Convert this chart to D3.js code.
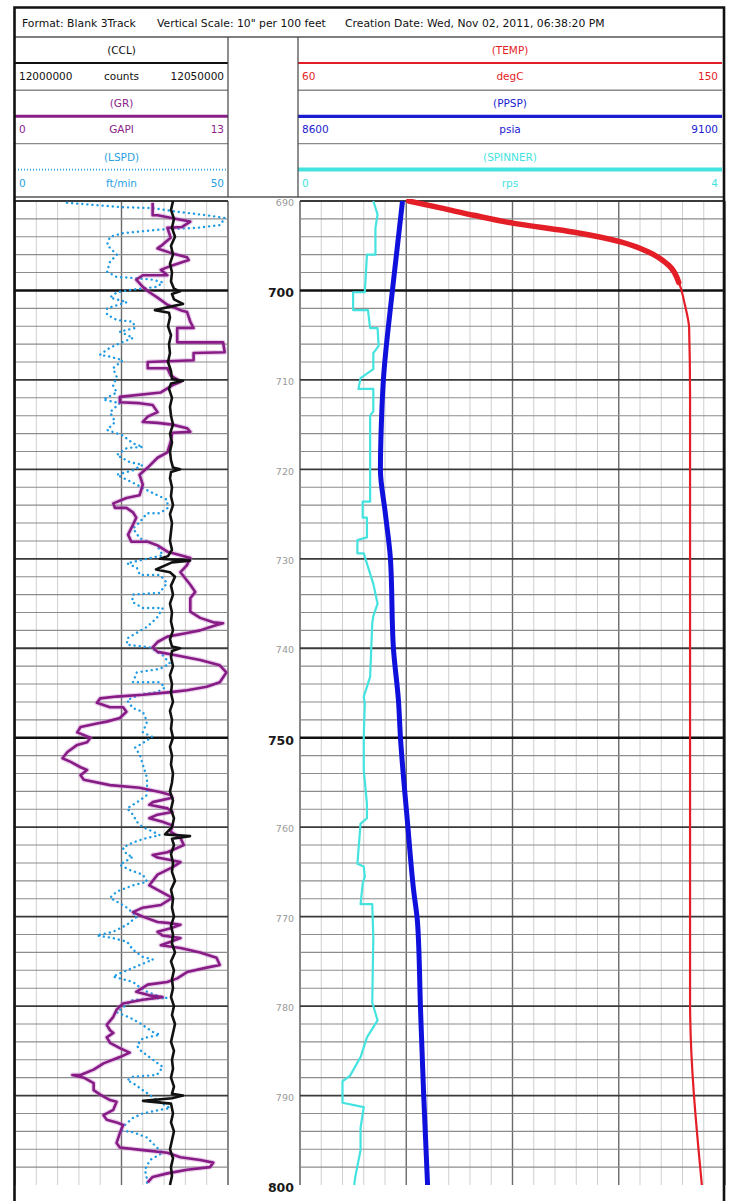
<!DOCTYPE html>
<html>
<head>
<meta charset="utf-8">
<script src="https://cdn.jsdelivr.net/npm/d3@7"></script>
<style>
  html, body { margin: 0; padding: 0; background: #fff; }
  svg { display: block; font-family: "DejaVu Sans", Arial, sans-serif; }
</style>
</head>
<body>
<svg id="log" width="730" height="1201"></svg>
<script>

// ---- curve data (depth in feet) ----

// CCL, counts
const cclDepth = [
  690, 691, 692, 693, 694, 695, 696, 697, 698, 699,
  699.8, 700.1, 700.4, 701, 701.5, 701.8, 702.2, 702.5, 703, 704,
  705, 706, 707, 708, 709, 709.9, 710.1, 710.4, 711, 712,
  713, 714, 715, 716, 717, 718, 719, 719.8, 720, 720.3,
  721, 722, 723, 724, 725, 726, 727, 728, 729, 729.7,
  730, 730.2, 730.4, 731.2, 731.5, 732, 733, 734, 735, 736,
  737, 738, 739, 739.8, 740, 740.3, 741, 742, 743, 744,
  745, 746, 747, 748, 749, 750, 751, 752, 753, 754,
  755, 756, 757, 758, 759, 760, 760.8, 761, 761.3, 762,
  763, 764, 765, 766, 767, 768, 769, 770, 771, 772,
  773, 774, 775, 776, 777, 778, 779, 780, 781, 782,
  783, 784, 785, 786, 787, 788, 789, 789.8, 790, 790.3,
  790.6, 790.9, 792, 793, 794, 795, 796, 797, 798, 799,
  800
];
const cclCounts = [
  12037090, 12036620, 12037320, 12036850, 12037560, 12036620, 12037090, 12036380, 12036850, 12036620,
  12037320, 12038730, 12036850, 12037320, 12039440, 12036620, 12032860, 12036150, 12036380, 12035920,
  12036620, 12036150, 12036380, 12035920, 12036620, 12036850, 12039440, 12036620, 12036150, 12036850,
  12036380, 12036620, 12037090, 12036380, 12036850, 12036380, 12036620, 12037090, 12038730, 12036620,
  12036380, 12036850, 12036620, 12037090, 12036380, 12036850, 12036620, 12036380, 12036850, 12035920,
  12034040, 12041080, 12036850, 12033100, 12036380, 12037560, 12036620, 12037090, 12036380, 12036850,
  12036620, 12037090, 12036380, 12036850, 12038730, 12036850, 12036620, 12037090, 12036380, 12036850,
  12036620, 12037090, 12036380, 12036850, 12036620, 12037090, 12036380, 12036850, 12036620, 12037090,
  12036850, 12036380, 12037090, 12036620, 12037320, 12036850, 12035210, 12041080, 12036850, 12037320,
  12036620, 12037090, 12036850, 12037560, 12036620, 12037090, 12036850, 12037320, 12036620, 12037090,
  12036850, 12037560, 12036620, 12037320, 12036850, 12037090, 12036620, 12037320, 12036850, 12037560,
  12037090, 12036620, 12037320, 12036850, 12037090, 12036620, 12037320, 12036850, 12039440, 12036850,
  12030050, 12036620, 12037090, 12036620, 12037320, 12036850, 12036380, 12037090, 12036620, 12036850,
  12036380
];

// GR, GAPI
const grDepth = [
  690.2, 690.8, 691.6, 691.6, 692.1, 692.3, 692.9, 693.0, 694.1, 694.9,
  695.3, 695.8, 696.3, 696.6, 697.2, 697.7, 698.3, 698.3, 698.8, 699.6,
  700.2, 700.8, 701.6, 702.2, 702.4, 703.5, 704.2, 704.2, 705.8, 705.8,
  706.9, 707.0, 707.8, 708.0, 708.7, 708.7, 709.5, 710.2, 710.6, 711.4,
  711.9, 712.5, 712.6, 712.8, 713.6, 714.1, 714.7, 714.8, 715.0, 715.4,
  715.8, 715.9, 716.9, 718.1, 718.7, 719.8, 720.6, 721.7, 722.9, 723.2,
  723.8, 724.3, 724.3, 724.8, 725.4, 726.2, 727.3, 728.1, 728.1, 728.5,
  729.2, 729.6, 729.9, 730.7, 731.5, 732.9, 733.7, 734.4, 735.9, 736.6,
  737.1, 737.2, 737.4, 738.0, 738.3, 738.7, 739.3, 739.9, 740.4, 740.8,
  741.3, 741.9, 742.7, 743.8, 744.3, 744.7, 744.9, 745.2, 745.4, 745.6,
  746.1, 746.6, 746.6, 747.1, 747.8, 748.2, 748.4, 748.8, 749.4, 750.0,
  750.5, 750.8, 751.6, 752.3, 752.7, 753.3, 753.6, 754.2, 754.7, 755.3,
  755.6, 756.1, 756.4, 756.7, 757.2, 757.5, 757.9, 758.3, 758.6, 759.0,
  759.4, 759.8, 760.5, 761.2, 762.0, 762.8, 763.1, 763.4, 763.9, 764.5,
  765.3, 766.5, 767.2, 767.9, 768.7, 769.0, 769.5, 770.0, 770.6, 770.7,
  770.9, 771.3, 771.7, 772.1, 772.4, 772.8, 773.2, 773.5, 774.0, 774.6,
  775.4, 775.7, 776.2, 776.9, 777.3, 777.6, 778.4, 778.8, 779.0, 779.3,
  779.7, 780.4, 781.2, 782.1, 782.7, 783.0, 783.5, 784.1, 784.7, 785.2,
  785.7, 786.4, 787.1, 787.7, 787.7, 788.0, 788.6, 789.4, 789.9, 790.5,
  790.7, 791.6, 792.2, 792.7, 793.0, 793.3, 794.2, 795.3, 795.8, 796.1,
  796.4, 796.9, 797.2, 797.5, 798.0, 798.3, 798.7, 799.1, 799.7
];
const grApi = [
  8.4, 8.4, 8.4, 8.7, 10.1, 10.7, 10.2, 9.3, 9.5, 9.0,
  8.7, 9.5, 10.5, 10.6, 9.6, 8.9, 9.3, 7.8, 7.4, 7.8,
  8.2, 8.7, 9.3, 10.1, 10.5, 10.7, 10.9, 9.9, 9.9, 12.7,
  12.8, 10.9, 10.9, 8.1, 8.1, 9.3, 9.5, 10.1, 9.6, 8.9,
  6.4, 6.4, 7.6, 8.4, 8.7, 8.1, 7.8, 8.7, 9.6, 10.5,
  10.7, 9.6, 9.5, 9.3, 8.7, 8.1, 7.6, 7.8, 7.6, 6.8,
  6.0, 6.1, 6.8, 7.2, 7.4, 7.2, 6.9, 7.1, 8.1, 8.7,
  9.3, 10.1, 10.7, 10.5, 10.1, 10.7, 11.0, 10.7, 10.7, 11.3,
  12.1, 12.7, 12.3, 11.3, 10.5, 9.3, 8.7, 8.4, 8.7, 9.9,
  11.3, 12.5, 12.9, 12.5, 11.7, 10.5, 9.5, 7.8, 6.2, 5.2,
  5.0, 5.8, 6.6, 6.8, 6.4, 5.6, 5.0, 4.0, 3.8, 4.6,
  4.4, 3.8, 3.2, 2.9, 3.4, 4.0, 4.4, 4.0, 4.2, 5.8,
  7.6, 8.9, 9.5, 9.6, 8.4, 8.2, 9.3, 9.6, 8.7, 8.2,
  9.0, 9.6, 9.5, 10.1, 10.3, 9.3, 8.4, 8.7, 10.1, 9.6,
  8.7, 8.2, 8.9, 9.6, 8.9, 7.8, 7.2, 7.8, 8.7, 9.3,
  10.1, 9.5, 8.7, 9.0, 10.1, 9.5, 8.9, 10.1, 11.3, 12.3,
  12.5, 11.7, 10.5, 9.9, 9.3, 8.1, 7.4, 8.2, 9.0, 7.8,
  6.6, 6.2, 6.0, 5.6, 5.8, 6.0, 5.6, 5.8, 6.4, 7.0,
  6.4, 5.4, 4.8, 4.0, 3.5, 4.2, 4.8, 4.8, 5.2, 5.8,
  6.2, 6.0, 5.4, 5.6, 6.2, 6.6, 6.4, 6.2, 6.4, 7.8,
  9.3, 10.1, 11.3, 12.1, 11.9, 10.5, 9.3, 8.4, 8.1
];

// LSPD, ft/min
const lspdDepth = [
  690.2, 690.7, 690.8, 691.2, 691.6, 691.9, 692.7, 693.0, 693.2, 693.6,
  694.0, 694.9, 696.0, 696.8, 697.9, 698.5, 698.6, 698.8, 699.1, 699.6,
  699.9, 700.2, 700.8, 701.3, 702.0, 702.7, 703.3, 703.5, 704.2, 704.6,
  705.3, 705.9, 706.4, 707.2, 707.4, 707.8, 708.7, 709.7, 710.6, 711.4,
  712.2, 712.6, 713.6, 714.7, 715.6, 716.2, 717.1, 717.5, 717.6, 718.4,
  719.2, 719.5, 720.1, 720.6, 721.5, 722.5, 723.4, 724.3, 724.9, 724.9,
  725.9, 726.6, 727.7, 728.5, 729.6, 730.1, 730.5, 731.0, 731.8, 731.8,
  732.7, 733.3, 733.8, 734.0, 734.8, 735.5, 735.5, 736.6, 737.6, 738.9,
  739.6, 739.9, 740.8, 741.7, 742.3, 742.7, 743.8, 743.8, 744.4, 744.9,
  745.2, 745.8, 746.7, 747.1, 748.2, 749.4, 749.9, 750.6, 751.1, 751.9,
  753.0, 754.5, 755.3, 756.4, 757.0, 757.5, 757.9, 758.6, 759.4, 760.0,
  760.5, 760.9, 761.2, 761.7, 762.3, 763.1, 763.3, 764.2, 764.8, 765.3,
  766.1, 766.5, 767.2, 767.9, 768.5, 769.0, 770.0, 770.9, 771.7, 772.1,
  772.4, 772.8, 773.7, 774.5, 774.8, 775.4, 776.2, 776.7, 776.9, 777.3,
  777.9, 778.4, 778.8, 779.1, 779.3, 780.7, 781.3, 781.9, 782.9, 783.2,
  783.6, 784.4, 784.9, 786.0, 786.8, 787.7, 787.9, 788.3, 788.6, 789.4,
  790.5, 791.4, 791.6, 792.0, 792.5, 793.5, 793.9, 794.1, 794.7, 795.8,
  796.4, 797.2, 798.3, 799.4, 800.0
];
const lspdFtMin = [
  12.2, 25.3, 32.4, 38.0, 45.1, 49.3, 48.1, 42.7, 34.0, 25.3,
  22.3, 21.6, 23.9, 22.3, 21.6, 23.9, 27.7, 32.4, 34.7, 33.3,
  27.7, 23.9, 22.3, 26.3, 21.6, 21.6, 23.9, 27.7, 28.2, 24.6,
  27.7, 24.6, 22.3, 19.9, 22.3, 25.3, 23.0, 23.9, 23.0, 23.9,
  20.7, 24.6, 22.3, 23.5, 21.6, 25.3, 27.7, 30.0, 26.3, 23.9,
  27.0, 30.0, 27.7, 23.9, 27.7, 31.7, 35.7, 35.9, 34.0, 31.0,
  29.3, 27.7, 29.3, 33.3, 34.7, 30.0, 26.3, 28.6, 29.3, 34.0,
  35.7, 34.7, 34.0, 27.7, 27.5, 30.0, 34.7, 33.3, 31.0, 26.3,
  26.3, 31.7, 34.7, 36.4, 34.0, 28.6, 27.7, 34.0, 35.2, 33.3,
  29.3, 26.3, 27.7, 30.0, 31.0, 30.0, 32.2, 30.0, 28.2, 29.3,
  30.0, 31.0, 31.0, 31.0, 29.3, 27.7, 26.3, 27.7, 28.6, 30.0,
  32.4, 34.0, 31.0, 27.7, 25.3, 26.3, 27.7, 24.6, 27.0, 30.0,
  31.0, 27.7, 23.9, 22.3, 24.6, 26.3, 28.6, 26.3, 23.0, 19.2,
  23.0, 26.3, 27.7, 30.0, 32.4, 29.3, 25.3, 23.0, 24.6, 27.7,
  29.3, 31.0, 33.3, 35.7, 27.7, 23.9, 27.0, 29.3, 32.4, 34.0,
  30.0, 28.6, 29.3, 32.4, 34.7, 33.3, 27.7, 26.3, 27.7, 30.0,
  33.3, 36.4, 34.0, 30.0, 27.7, 25.3, 24.6, 27.7, 31.0, 33.3,
  34.7, 31.7, 30.5, 31.0, 31.0
];

// TEMP, degC
const tempDepth = [690.0, 690.8, 691.6, 692.5, 693.5, 694.6, 695.7, 697.2, 699.1, 701.6, 704.2, 711.7, 779.3, 800.0];
const tempDegC  = [83.0, 90.0, 96.8, 105.3, 118.1, 128.1, 133.8, 138.1, 140.2, 141.5, 142.4, 142.6, 142.6, 145.1];

// PPSP, psia
const ppspDepth = [690, 700, 710, 715, 720, 725, 730, 740, 745.8, 750, 759.5, 767, 770.7, 780.4, 789.7, 800];
const ppspPsia  = [8720.6, 8708.7, 8698.1, 8695.7, 8694.6, 8700.5, 8706.4, 8709.9, 8715.8, 8718.2, 8726.5, 8733.6, 8738.3, 8741.8, 8745.4, 8750.1];

// SPINNER, rps
const spinDepth = [
  690.0, 691.5, 693.0, 696.0, 696.0, 700.2, 700.2, 702.2, 702.2, 704.2,
  704.2, 706.2, 707.0, 708.8, 709.8, 711.0, 711.0, 713.5, 714.0, 723.6,
  723.6, 725.4, 725.4, 727.6, 727.9, 729.4, 729.4, 732.8, 735.0, 736.4,
  737.2, 743.2, 745.4, 746.2, 749.9, 753.6, 757.4, 759.0, 759.6, 764.1,
  764.4, 765.5, 766.3, 768.6, 768.6, 772.3, 779.6, 781.6, 783.5, 785.7,
  787.8, 788.4, 790.8, 791.3, 793.6, 796.1, 799.1, 800.0
];
const spinRps = [
  0.69, 0.73, 0.71, 0.71, 0.63, 0.61, 0.50, 0.50, 0.64, 0.66,
  0.73, 0.74, 0.69, 0.69, 0.57, 0.55, 0.69, 0.69, 0.66, 0.66,
  0.59, 0.59, 0.63, 0.63, 0.54, 0.54, 0.60, 0.69, 0.73, 0.69,
  0.68, 0.66, 0.60, 0.61, 0.60, 0.60, 0.63, 0.63, 0.57, 0.54,
  0.60, 0.61, 0.59, 0.57, 0.68, 0.69, 0.68, 0.73, 0.63, 0.57,
  0.47, 0.40, 0.40, 0.60, 0.57, 0.57, 0.52, 0.51
];

// Depth labels every 10 ft, bold every 50 ft
const depthLabels = [690, 700, 710, 720, 730, 740, 750, 760, 770, 780, 790, 800];

// Header rows: name, unit, left value, right value, colour
const leftHeader = [
  {name: "(CCL)",  unit: "counts", lo: "12000000", hi: "12050000", colour: "#111111"},
  {name: "(GR)",   unit: "GAPI",   lo: "0",        hi: "13",       colour: "#8a1f8a"},
  {name: "(LSPD)", unit: "ft/min", lo: "0",        hi: "50",       colour: "#2a9fe2"}
];
const rightHeader = [
  {name: "(TEMP)",    unit: "degC", lo: "60",   hi: "150",  colour: "#e41e26"},
  {name: "(PPSP)",    unit: "psia", lo: "8600", hi: "9100", colour: "#1c1cd0"},
  {name: "(SPINNER)", unit: "rps",  lo: "0",    hi: "4",    colour: "#45e3e0"}
];

// ---- layout ----
const svg = d3.select("#log");
const trackTop = 201, trackBottom = 1185;
const leftTrack = {x0: 15, x1: 228};
const rightTrack = {x0: 300, x1: 725};

const y = d3.scaleLinear().domain([690, 800]).range([trackTop, trackBottom]);

const cclX  = d3.scaleLinear().domain([12000000, 12050000]).range([leftTrack.x0, leftTrack.x1]);
const grX   = d3.scaleLinear().domain([0, 13]).range([leftTrack.x0, leftTrack.x1]);
const lspdX = d3.scaleLinear().domain([0, 50]).range([leftTrack.x0, leftTrack.x1]);
const tempX = d3.scaleLinear().domain([60, 150]).range([rightTrack.x0, rightTrack.x1]);
const ppspX = d3.scaleLinear().domain([8600, 9100]).range([rightTrack.x0, rightTrack.x1]);
const spinX = d3.scaleLinear().domain([0, 4]).range([rightTrack.x0, rightTrack.x1]);

// ---- grid ----
function drawGrid(track, divisions, majorEvery) {
    const g = svg.append("g");
    const xs = d3.scaleLinear().domain([0, divisions]).range([track.x0, track.x1]);

    // Value lines
    g.selectAll(".vline")
        .data(d3.range(0, divisions + 1))
        .enter()
        .append("line")
        .attr("x1", (i) => xs(i)).attr("x2", (i) => xs(i))
        .attr("y1", trackTop).attr("y2", trackBottom)
        .style("stroke", (i) => (i === 0 || i === divisions) ? "#555" : (i % majorEvery === 0 ? "#6a6a6a" : "#cfcfcf"))
        .style("stroke-width", (i) => (i % majorEvery === 0) ? 1.4 : 1);

    // Depth lines every 2 ft
    const depths = d3.range(690, 800, 2);
    g.selectAll(".hline")
        .data(depths)
        .enter()
        .append("line")
        .attr("x1", track.x0).attr("x2", track.x1)
        .attr("y1", (d) => y(d)).attr("y2", (d) => y(d))
        .style("stroke", (d) => d % 50 === 0 ? "#111" : (d % 10 === 0 ? "#3a3a3a" : "#8c8c8c"))
        .style("stroke-width", (d) => d % 50 === 0 ? 2.6 : (d % 10 === 0 ? 1.8 : 1.1));
}
drawGrid(leftTrack, 10, 5);
drawGrid(rightTrack, 20, 5);

// ---- curves ----
const defs = svg.append("defs");
[["clipLeft", leftTrack], ["clipRight", rightTrack]].forEach(([id, t]) => {
    defs.append("clipPath").attr("id", id)
        .append("rect")
        .attr("x", t.x0).attr("y", trackTop - 2)
        .attr("width", t.x1 - t.x0).attr("height", trackBottom - trackTop + 4);
});

function drawCurve(clip, depths, values, xScale, style, curve) {
    const rows = d3.zip(depths, values);
    const line = d3.line()
        .x((d) => xScale(d[1]))
        .y((d) => y(d[0]))
        .curve(curve || d3.curveLinear);
    const path = svg.append("path")
        .datum(rows)
        .attr("clip-path", `url(#${clip})`)
        .attr("d", line)
        .style("fill", "none")
        .style("stroke-linejoin", "round");
    Object.entries(style).forEach(([k, v]) => path.style(k, v));
    return path;
}

// Right track
drawCurve("clipRight", spinDepth, spinRps, spinX, {"stroke": "#45e3e0", "stroke-width": 2.2});
drawCurve("clipRight", ppspDepth, ppspPsia, ppspX, {"stroke": "#1010dd", "stroke-width": 5}, d3.curveMonotoneY);
drawCurve("clipRight", tempDepth, tempDegC, tempX, {"stroke": "#e41e26", "stroke-width": 2.2}, d3.curveMonotoneY);
drawCurve("clipRight", tempDepth.slice(0, 9), tempDegC.slice(0, 9), tempX, {"stroke": "#e41e26", "stroke-width": 5.5, "stroke-linecap": "round"}, d3.curveMonotoneY);

// Left track
drawCurve("clipLeft", lspdDepth, lspdFtMin, lspdX, {"stroke": "#1f9be3", "stroke-width": 2.4, "stroke-dasharray": "0.1 5", "stroke-linecap": "round"});
drawCurve("clipLeft", grDepth, grApi, grX, {"stroke": "#c77cc7", "stroke-width": 5, "opacity": 0.35});
drawCurve("clipLeft", grDepth, grApi, grX, {"stroke": "#871c87", "stroke-width": 2.6});
drawCurve("clipLeft", cclDepth, cclCounts, cclX, {"stroke": "#111", "stroke-width": 2.6});

// ---- depth labels ----
svg.append("g")
    .selectAll("text")
    .data(depthLabels)
    .enter()
    .append("text")
    .attr("x", 294)
    .attr("y", (d) => y(d))
    .attr("dy", "0.55em")
    .style("text-anchor", "end")
    .style("font-size", (d) => d % 50 === 0 ? "12.5px" : "9.5px")
    .style("font-weight", (d) => d % 50 === 0 ? "bold" : "normal")
    .style("fill", (d) => d % 50 === 0 ? "#1a1a1a" : "#9a9a9a")
    .text((d) => d);

// ---- header ----
const header = svg.append("g");
const rowTop = 37, rowH = 53.3;

function drawHeader(track, rows, lineWidths) {
    const cx = (track.x0 + track.x1) / 2;
    rows.forEach((r, i) => {
        const top = rowTop + i * rowH;
        const mid = top + 26;
        header.append("text").attr("x", cx).attr("y", top + 17)
            .style("text-anchor", "middle").style("font-size", "10.5px").style("fill", r.colour).text(r.name);
        header.append("line")
            .attr("x1", track.x0).attr("x2", track.x1).attr("y1", mid).attr("y2", mid)
            .style("stroke", r.colour).style("stroke-width", lineWidths[i])
            .style("stroke-dasharray", r.name === "(LSPD)" ? "1 2" : null);
        header.append("text").attr("x", track.x0 + 4).attr("y", mid + 17)
            .style("font-size", "10.5px").style("fill", r.colour).text(r.lo);
        header.append("text").attr("x", cx).attr("y", mid + 17)
            .style("text-anchor", "middle").style("font-size", "10.5px").style("fill", r.colour).text(r.unit);
        header.append("text").attr("x", track.x1 - 4).attr("y", mid + 17)
            .style("text-anchor", "end").style("font-size", "10.5px").style("fill", r.colour).text(r.hi);
        if (i < rows.length - 1) {
            header.append("line")
                .attr("x1", track.x0).attr("x2", track.x1).attr("y1", top + rowH).attr("y2", top + rowH)
                .style("stroke", "#8a8a8a").style("stroke-width", 1.4);
        }
    });
}
drawHeader({x0: 15, x1: 228}, leftHeader, [2.2, 3, 1.8]);
drawHeader({x0: 298, x1: 722}, rightHeader, [2.2, 3.2, 4]);

// Header separators
header.append("line").attr("x1", 14).attr("x2", 724).attr("y1", rowTop).attr("y2", rowTop)
    .style("stroke", "#555").style("stroke-width", 1.4);
header.append("line").attr("x1", 14).attr("x2", 724).attr("y1", 197).attr("y2", 197)
    .style("stroke", "#555").style("stroke-width", 1.4);
[228, 298].forEach((x) => {
    header.append("line").attr("x1", x).attr("x2", x).attr("y1", rowTop).attr("y2", 197)
        .style("stroke", "#444").style("stroke-width", 1.2);
});

// Title
const titles = [
    {x: 22,  text: "Format: Blank 3Track"},
    {x: 157, text: "Vertical Scale: 10\" per 100 feet"},
    {x: 345, text: "Creation Date: Wed, Nov 02, 2011, 06:38:20 PM"}
];
header.selectAll(".title")
    .data(titles)
    .enter()
    .append("text")
    .attr("x", (d) => d.x).attr("y", 27)
    .style("font-size", "10.8px")
    .style("fill", "#111")
    .text((d) => d.text);

// Frame
svg.append("path")
    .attr("d", "M14.5,1201 V7.5 H724 V1201")
    .style("fill", "none").style("stroke", "#111").style("stroke-width", 2.6);

</script>
</body>
</html>
